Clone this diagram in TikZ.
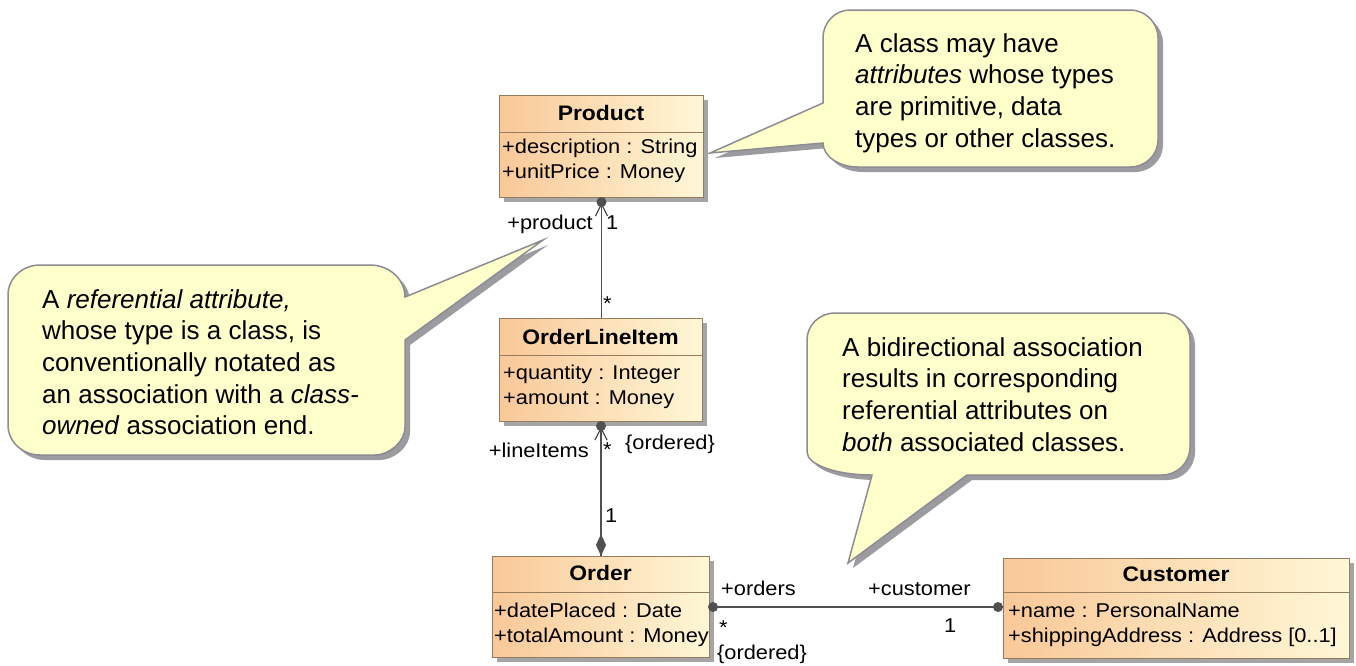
\documentclass[tikz,border=0pt]{standalone}
\usepackage{fontspec}
\setmainfont{Liberation Sans}
\newfontfamily\umlfont[FakeStretch=1.09]{Liberation Sans}
\usetikzlibrary{shadows}
\definecolor{clsleft}{RGB}{249,200,152}
\definecolor{clsright}{RGB}{255,247,214}
\definecolor{clsborder}{RGB}{150,124,94}
\definecolor{noteyellow}{RGB}{255,255,204}
\definecolor{noteborder}{RGB}{140,140,146}
\definecolor{noteshadow}{RGB}{155,155,160}
\definecolor{boxshadow}{RGB}{165,165,165}
\definecolor{connector}{RGB}{80,80,80}
\begin{document}
\begin{tikzpicture}[x=1pt,y=-1pt,
  clsbox/.style={draw=clsborder, line width=1pt, left color=clsleft, right color=clsright,
    inner sep=0pt, anchor=north west,
    drop shadow={shadow xshift=4pt, shadow yshift=-4pt, fill=boxshadow, opacity=1}},
  clssep/.style={draw=clsborder, line width=1pt},
  clstitle/.style={font=\umlfont\bfseries\fontsize{21}{25}\selectfont, anchor=base, inner sep=0pt},
  clsattr/.style={font=\umlfont\fontsize{20}{25}\selectfont, anchor=base west, inner sep=0pt},
  endlabel/.style={font=\umlfont\fontsize{20}{25}\selectfont, inner sep=0pt},
  assoc/.style={draw=connector, line width=1.5pt},
  enddot/.style={fill=connector},
  navarrow/.style={draw=connector, line width=1.2pt},
  note/.style={fill=noteyellow, draw=noteborder, line width=1.5pt, line join=miter,
    drop shadow={shadow xshift=5pt, shadow yshift=-5pt, fill=noteshadow, opacity=1}},
  notetext/.style={font=\fontsize{26}{31.7}\selectfont, anchor=base west, inner sep=0pt}
]
\useasboundingbox (0,0) rectangle (1356,665);
\fill[white] (0,0) rectangle (1356,665);

% ---- notes ----
\draw[note] (823,103) -- (710,153) -- (823,143)
  .. controls (823,156.2) and (838.7,167) .. (858,167) -- (1130,167)
  .. controls (1145.5,167) and (1158,154.9) .. (1158,140) -- (1158,38)
  .. controls (1158,22.5) and (1145.5,10) .. (1130,10) -- (850,10)
  .. controls (835.1,10) and (823,22.5) .. (823,38) -- cycle;
\node[notetext] (attrnote) at (855,52) {\begin{tabular}[t]{@{}l@{}}
  A class may have\\
  \textit{attributes} whose types\\
  are primitive, data\\
  types or other classes.\end{tabular}};

\draw[note] (405,297) -- (543,240) -- (405,340) -- (405,427)
  .. controls (405,442.5) and (388.4,455) .. (375,455) -- (40,455)
  .. controls (22.3,455) and (8,441.6) .. (8,425) -- (8,295)
  .. controls (8,278.4) and (22.3,265) .. (40,265) -- (370,265)
  .. controls (389.3,265) and (405,279.3) .. (405,297) -- cycle;
\node[notetext] (refnote) at (42,308) {\begin{tabular}[t]{@{}l@{}}
  A \textit{referential attribute,}\\
  whose type is a class, is\\
  conventionally notated as\\
  an association with a \textit{class-}\\
  \textit{owned} association end.\end{tabular}};

\draw[note] (872,475) -- (848,563) -- (967,475) -- (1162,475)
  .. controls (1177.5,475) and (1190,462.5) .. (1190,447) -- (1190,340)
  .. controls (1190,325.1) and (1177.5,313) .. (1162,313) -- (835,313)
  .. controls (819.5,313) and (807,325.1) .. (807,340) -- (807,452)
  .. controls (807,464.7) and (836.1,475) .. (872,475) -- cycle;
\node[notetext] (bidinote) at (842,356) {\begin{tabular}[t]{@{}l@{}}
  A bidirectional association\\
  results in corresponding\\
  referential attributes on\\
  \textit{both} associated classes.\end{tabular}};

% ---- classes ----
\node[clsbox, minimum width=204pt, minimum height=102pt] (product) at (499,95) {};
\draw[clssep] ([yshift=-37pt]product.north west) -- ([yshift=-37pt]product.north east);
\node[clstitle] (producttitle) at (601,120) {Product};
\node[clsattr] (productattra) at (502,153) {+description : String};
\node[clsattr] (productattrb) at (502,178) {+unitPrice : Money};

\node[clsbox, minimum width=203pt, minimum height=103pt] (oli) at (499,318) {};
\draw[clssep] ([yshift=-37pt]oli.north west) -- ([yshift=-37pt]oli.north east);
\node[clstitle] (olititle) at (600.5,344) {OrderLineItem};
\node[clsattr] (oliattra) at (503,379) {+quantity : Integer};
\node[clsattr] (oliattrb) at (503,404) {+amount : Money};

\node[clsbox, minimum width=217pt, minimum height=101pt] (order) at (492,556) {};
\draw[clssep] ([yshift=-36pt]order.north west) -- ([yshift=-36pt]order.north east);
\node[clstitle] (ordertitle) at (600.5,580) {Order};
\node[clsattr] (orderattra) at (494,617) {+datePlaced : Date};
\node[clsattr] (orderattrb) at (494,642) {+totalAmount : Money};

\node[clsbox, minimum width=346pt, minimum height=100pt] (customer) at (1003,558) {};
\draw[clssep] ([yshift=-34pt]customer.north west) -- ([yshift=-34pt]customer.north east);
\node[clstitle] (customertitle) at (1176,581) {Customer};
\node[clsattr] (customerattra) at (1008,617) {+name : PersonalName};
\node[clsattr] (customerattrb) at (1008,642) {+shippingAddress : Address [0..1]};

% ---- associations ----
\draw[assoc] (product.south) -- (product.south |- oli.north);
\fill[enddot] ([yshift=-4pt]product.south) circle (5pt);
\draw[navarrow] ([xshift=-6pt,yshift=-18pt]product.south) -- ([yshift=-6pt]product.south)
  -- ([xshift=6pt,yshift=-18pt]product.south);

\draw[assoc] (oli.south) -- (oli.south |- order.north);
\fill[enddot] ([yshift=-4pt]oli.south) circle (5pt);
\draw[navarrow] ([xshift=-6pt,yshift=-18pt]oli.south) -- ([yshift=-6pt]oli.south)
  -- ([xshift=6pt,yshift=-18pt]oli.south);
\fill[enddot] (order.north) -- ++(5,-11) -- ++(-5,-11) -- ++(-5,11) -- cycle;

\draw[assoc] (order.east) -- (order.east -| customer.west);
\fill[enddot] ([xshift=3pt]order.east) circle (5pt);
\fill[enddot] ([xshift=-5pt]order.east -| customer.west) circle (5pt);

% ---- association end labels ----
\node[endlabel, anchor=base east] (productrole) at (593,229) {+product};
\node[endlabel, anchor=base west] (productmult) at (606,229) {1};
\node[endlabel, anchor=base west] (olimult) at (603,310) {*};
\node[endlabel, anchor=base east] (lineitemsrole) at (589,457) {+lineItems};
\node[endlabel, anchor=base west] (lineitemsmult) at (603,456) {*};
\node[endlabel, anchor=base west] (lineitemsorder) at (625,449) {\{ordered\}};
\node[endlabel, anchor=base west] (ordermult) at (605,522) {1};
\node[endlabel, anchor=base west] (ordersrole) at (721,595) {+orders};
\node[endlabel, anchor=base west] (customerrole) at (868,595) {+customer};
\node[endlabel, anchor=base west] (ordersmult) at (719,634) {*};
\node[endlabel, anchor=base west] (customermult) at (944,632) {1};
\node[endlabel, anchor=base west] (ordersorder) at (717,659) {\{ordered\}};
\end{tikzpicture}
\end{document}
